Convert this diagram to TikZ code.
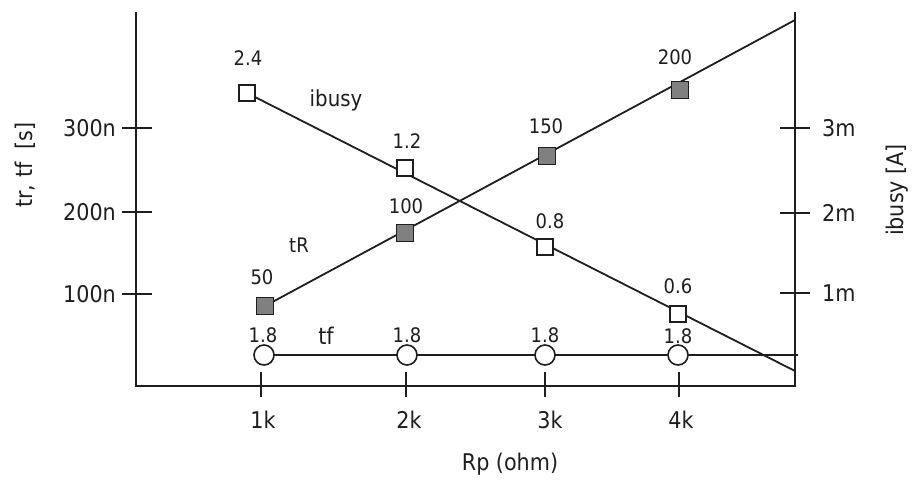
\documentclass[tikz,border=0pt]{standalone}
\usepackage{fontspec}
\setmainfont{DejaVu Sans}[FakeStretch=0.9]
\definecolor{ink}{HTML}{1E1E1E}
\definecolor{markgray}{HTML}{808080}
\begin{document}
\begin{tikzpicture}[x=1pt,y=-1pt,
  axisline/.style={line width=1.8pt,draw=ink},
  dataline/.style={line width=1.8pt,draw=ink},
  tickline/.style={line width=1.6pt,draw=ink},
  openbox/.style={draw=ink,fill=white,line width=1.6pt,minimum size=16pt,inner sep=0pt},
  grayboxm/.style={draw=ink,fill=markgray,line width=1.6pt,minimum size=17pt,inner sep=0pt},
  ring/.style={circle,draw=ink,fill=white,line width=1.6pt,minimum size=20pt,inner sep=0pt},
  axlabel/.style={font=\fontsize{23}{26}\selectfont,text=ink,inner sep=0pt},
  datlabel/.style={font=\fontsize{20}{23}\selectfont,text=ink,inner sep=0pt}]
\useasboundingbox (0,0) rectangle (920,479);
% axes
\coordinate (lt) at (136,12);
\coordinate (lb) at (136,386);
\coordinate (rb) at (795,386);
\coordinate (rt) at (795,12);
\draw[axisline] (lt) -- (lb) -- (rb) -- (rt);
% left ticks
\foreach \y/\t [count=\i] in {128/300n,212/200n,294/100n}{
  \draw[tickline] (122,\y) -- (152,\y);
  \node[axlabel,anchor=east] (yl\i) at (116,\y) {\t};
}
% right ticks
\foreach \y/\t [count=\i] in {128/3m,213/2m,293/1m}{
  \draw[tickline] (780,\y) -- (810,\y);
  \node[axlabel,anchor=west] (yr\i) at (822,\y) {\t};
}
% bottom ticks
\foreach \x/\lx/\t [count=\i] in {261/263/1k,406/409/2k,545/550/3k,679/681/4k}{
  \draw[tickline] (\x,372) -- (\x,397);
  \node[axlabel] (xl\i) at (\lx,420) {\t};
}
% axis titles
\node[axlabel] (xt) at (510,464) {Rp (ohm)};
\node[axlabel,rotate=90] (ytl) at (25,165) {tr, tf\ \ [s]};
\node[axlabel,rotate=90] (ytr) at (897,190) {ibusy [A]};
% series end points
\coordinate (iend) at (795,371);
\coordinate (tend) at (795,20);
\coordinate (fend) at (798,355);
% lines
\draw[dataline] (247,93) -- (iend);
\draw[dataline] (265,306) -- (tend);
\draw[dataline] (264,355) -- (fend);
% ibusy markers
\node[openbox] (i1) at (247,93) {};
\node[openbox] (i2) at (405,168) {};
\node[openbox] (i3) at (545,247) {};
\node[openbox] (i4) at (678,314) {};
% tR markers
\node[grayboxm] (r1) at (265,306) {};
\node[grayboxm] (r2) at (405,233) {};
\node[grayboxm] (r3) at (547,156) {};
\node[grayboxm] (r4) at (680,90) {};
% tf markers
\node[ring] (f1) at (264,355) {};
\node[ring] (f2) at (407,355) {};
\node[ring] (f3) at (545,355) {};
\node[ring] (f4) at (678,355) {};
% data labels
\node[datlabel] (li1) at (248,58) {2.4};
\node[datlabel] (li2) at (407,141) {1.2};
\node[datlabel] (li3) at (550,221) {0.8};
\node[datlabel] (li4) at (678,286) {0.6};
\node[datlabel] (lr1) at (262,277) {50};
\node[datlabel] (lr2) at (406,206) {100};
\node[datlabel] (lr3) at (546,126) {150};
\node[datlabel] (lr4) at (675,57) {200};
\node[datlabel] (lf1) at (263,335) {1.8};
\node[datlabel] (lf2) at (407,335) {1.8};
\node[datlabel] (lf3) at (545,335) {1.8};
\node[datlabel] (lf4) at (678,336) {1.8};
% series names
\node[axlabel,font=\fontsize{22}{25}\selectfont] (nib) at (336,100) {ibusy};
\node[datlabel] (ntr) at (299,245) {tR};
\node[axlabel] (ntf) at (326,336) {tf};
\end{tikzpicture}
\end{document}
